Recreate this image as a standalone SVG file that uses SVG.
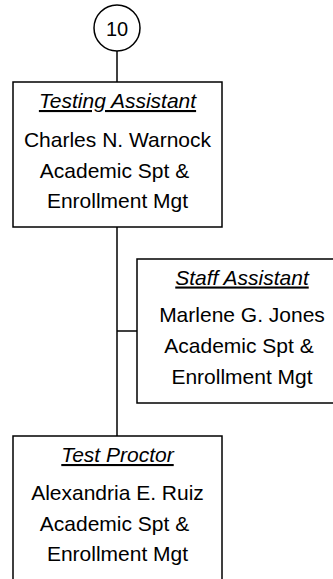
<svg xmlns="http://www.w3.org/2000/svg" width="333" height="579" viewBox="0 0 333 579">
<style>
.box{fill:#fff;stroke:#000;stroke-width:1.5}
.ln{fill:none;stroke:#000;stroke-width:1.5}
text{font-family:"Liberation Sans",Arial,sans-serif;font-size:21px;fill:#000;text-anchor:middle}
.t{font-style:italic;text-decoration:underline}
</style>
<rect width="333" height="579" fill="#fff"/>
<g id="connectors">
<line class="ln" x1="117" y1="51" x2="117" y2="82"/>
<line class="ln" x1="117" y1="227" x2="117" y2="436"/>
<line class="ln" x1="117" y1="331" x2="137" y2="331"/>
</g>
<g id="n10">
<circle class="box" cx="117" cy="28" r="23"/>
<text x="117" y="35.5" style="font-size:20px">10</text>
</g>
<g id="testing-assistant">
<rect class="box" x="13" y="82" width="209" height="145"/>
<text class="t" x="117.5" y="108">Testing Assistant</text>
<text x="117.5" y="147">Charles N. Warnock</text>
<text x="114.5" y="177.5">Academic Spt &amp;</text>
<text x="117.5" y="208">Enrollment Mgt</text>
</g>
<g id="staff-assistant">
<rect class="box" x="137" y="259" width="209" height="144"/>
<text class="t" x="242" y="284.5">Staff Assistant</text>
<text x="242" y="322">Marlene G. Jones</text>
<text x="239" y="352.5">Academic Spt &amp;</text>
<text x="242" y="383.5">Enrollment Mgt</text>
</g>
<g id="test-proctor">
<rect class="box" x="13" y="436" width="209" height="150"/>
<text class="t" x="117.5" y="462">Test Proctor</text>
<text x="117.5" y="500">Alexandria E. Ruiz</text>
<text x="114.5" y="530.5">Academic Spt &amp;</text>
<text x="117.5" y="561">Enrollment Mgt</text>
</g>
</svg>
